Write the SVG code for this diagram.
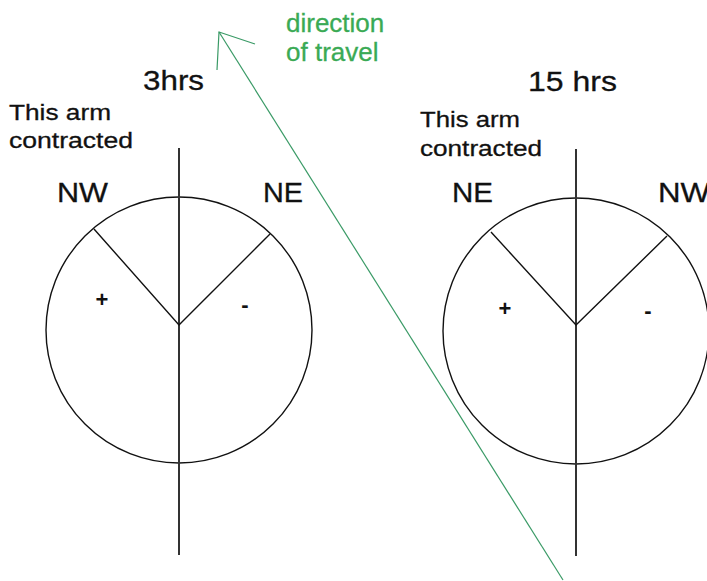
<svg xmlns="http://www.w3.org/2000/svg" width="707" height="581" viewBox="0 0 707 581">
<style>
.t{font-family:"Liberation Sans",Arial,sans-serif;fill:#111;stroke:#111;stroke-width:0.3}
.p{font-family:"Liberation Sans",Arial,sans-serif;fill:#111;font-weight:bold;font-size:22px}
.g{font-family:"Liberation Sans",Arial,sans-serif;fill:#3aaa55;stroke:#3aaa55;stroke-width:0.3;font-size:26px}
.c{fill:none;stroke:#111;stroke-width:1.4}
.v{stroke:#333;stroke-width:2}
.s{stroke:#111;stroke-width:1.4}
.a{stroke:#3a9a66;stroke-width:1.2;fill:none}
</style>
<rect width="707" height="581" fill="#fff"/>
<g id="left-dial">
<text class="t" x="143" y="90" font-size="28" textLength="61" lengthAdjust="spacingAndGlyphs">3hrs</text>
<text class="t" x="9" y="120" font-size="22" textLength="102" lengthAdjust="spacingAndGlyphs">This arm</text>
<text class="t" x="9" y="148" font-size="22" textLength="124" lengthAdjust="spacingAndGlyphs">contracted</text>
<text class="t" x="57" y="202" font-size="27" textLength="51" lengthAdjust="spacingAndGlyphs">NW</text>
<text class="t" x="263" y="202" font-size="27" textLength="40" lengthAdjust="spacingAndGlyphs">NE</text>
<circle class="c" cx="179" cy="330" r="133"/>
<line class="v" x1="179" y1="148" x2="179" y2="555"/>
<polyline class="s" fill="none" points="94,229 179,325 270,234"/>
<text class="p" x="102" y="307" text-anchor="middle">+</text>
<text class="p" x="245" y="312" text-anchor="middle">-</text>
</g>
<g id="right-dial">
<text class="t" x="528" y="91" font-size="28" textLength="89" lengthAdjust="spacingAndGlyphs">15 hrs</text>
<text class="t" x="420" y="127" font-size="22" textLength="100" lengthAdjust="spacingAndGlyphs">This arm</text>
<text class="t" x="420" y="156" font-size="22" textLength="122" lengthAdjust="spacingAndGlyphs">contracted</text>
<text class="t" x="452" y="202" font-size="27" textLength="41" lengthAdjust="spacingAndGlyphs">NE</text>
<text class="t" x="658" y="202" font-size="27" textLength="52" lengthAdjust="spacingAndGlyphs">NW</text>
<circle class="c" cx="576" cy="331" r="133"/>
<line class="v" x1="576" y1="149" x2="576" y2="556"/>
<polyline class="s" fill="none" points="491,232 576,325 667,236"/>
<text class="p" x="505" y="316" text-anchor="middle">+</text>
<text class="p" x="648" y="318" text-anchor="middle">-</text>
</g>
<g id="direction-label">
<text class="g" x="286" y="32">direction</text>
<text class="g" x="286" y="61">of travel</text>
</g>
<g id="connectors">
<line class="a" x1="563" y1="580" x2="219" y2="32"/>
<polyline class="a" points="217,70 219,32 255,44"/>
</g>
</svg>
